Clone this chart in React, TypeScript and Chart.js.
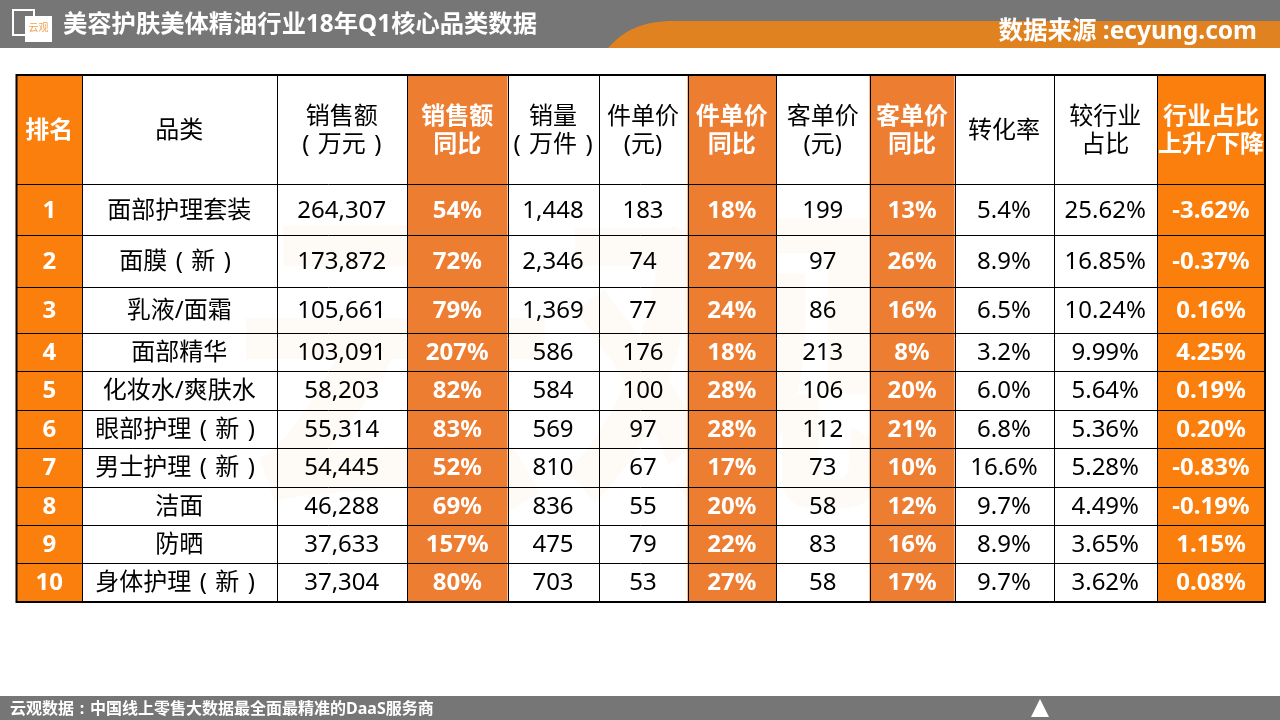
import React, { useEffect, useRef } from "react";
import { Chart, registerables } from "chart.js";

Chart.register(...registerables);

// ---------- data ----------
const ranks = ["1", "2", "3", "4", "5", "6", "7", "8", "9", "10"];
const categories = [
  "面部护理套装",
  "面膜（新）",
  "乳液/面霜",
  "面部精华",
  "化妆水/爽肤水",
  "眼部护理（新）",
  "男士护理（新）",
  "洁面",
  "防晒",
  "身体护理（新）",
];
const salesAmount = [264307, 173872, 105661, 103091, 58203, 55314, 54445, 46288, 37633, 37304];
const salesYoY = [54, 72, 79, 207, 82, 83, 52, 69, 157, 80];
const salesVolume = [1448, 2346, 1369, 586, 584, 569, 810, 836, 475, 703];
const unitPrice = [183, 74, 77, 176, 100, 97, 67, 55, 79, 53];
const unitPriceYoY = [18, 27, 24, 18, 28, 28, 17, 20, 22, 27];
const customerPrice = [199, 97, 86, 213, 106, 112, 73, 58, 83, 58];
const customerPriceYoY = [13, 26, 16, 8, 20, 21, 10, 12, 16, 17];
const conversionRate = [5.4, 8.9, 6.5, 3.2, 6.0, 6.8, 16.6, 9.7, 8.9, 9.7];
const industryShare = [25.62, 16.85, 10.24, 9.99, 5.64, 5.36, 5.28, 4.49, 3.65, 3.62];
const shareChange = [-3.62, -0.37, 0.16, 4.25, 0.19, 0.2, -0.83, -0.19, 1.15, 0.08];

const headerLabels: string[][] = [
  ["排名"],
  ["品类"],
  ["销售额", "（万元）"],
  ["销售额", "同比"],
  ["销量", "（万件）"],
  ["件单价", "(元)"],
  ["件单价", "同比"],
  ["客单价", "(元)"],
  ["客单价", "同比"],
  ["转化率"],
  ["较行业", "占比"],
  ["行业占比", "上升/下降"],
];

const titleText = "美容护肤美体精油行业18年Q1核心品类数据";
const sourceText = "数据来源 :ecyung.com";
const footerText = "云观数据：中国线上零售大数据最全面最精准的DaaS服务商";

// ---------- layout / style ----------
const colWidths = [65.5, 194.5, 130.5, 100.5, 91, 89, 88.5, 93.5, 85, 99, 103.5, 108];
const rowHeights = [109.3, 51, 51.7, 46.3, 38, 38.7, 38.3, 38.4, 38.3, 38.3, 38.7];
// column kind: 0 plain, 1 bright orange (rank/change), 2 office orange
const colKinds = [1, 0, 0, 2, 0, 0, 2, 0, 2, 0, 0, 1];

const BRIGHT = "#FB7F0C";
const ORANGE = "#ED7D31";
const GREY = "#767676";
const BAND = "#E0821F";
const FONT = '"Noto Sans", "Noto Sans CJK SC", sans-serif';

const fmtInt = (v: number) => v.toLocaleString("en-US");
const pct0 = (v: number) => `${v}%`;

function cellText(col: number, row: number): string {
  switch (col) {
    case 0: return ranks[row];
    case 1: return categories[row];
    case 2: return fmtInt(salesAmount[row]);
    case 3: return pct0(salesYoY[row]);
    case 4: return fmtInt(salesVolume[row]);
    case 5: return fmtInt(unitPrice[row]);
    case 6: return pct0(unitPriceYoY[row]);
    case 7: return fmtInt(customerPrice[row]);
    case 8: return pct0(customerPriceYoY[row]);
    case 9: return conversionRate[row].toFixed(1) + "%";
    case 10: return industryShare[row].toFixed(2) + "%";
    default: return shareChange[row].toFixed(2) + "%";
  }
}

const colEdges = colWidths.reduce<number[]>((a, w) => [...a, a[a.length - 1] + w], [0]);
const rowEdges = rowHeights.reduce<number[]>((a, h) => [...a, a[a.length - 1] + h], [0]);

const PUNCT: Record<string, string> = { "（": "(", "）": ")", "：": ":" };

// draws text with full-width punctuation centred in a 1em box
function drawMixed(
  ctx: CanvasRenderingContext2D,
  text: string,
  x: number,
  y: number,
  weight: string,
  size: number,
  align: "center" | "left"
) {
  ctx.font = `${weight}${size}px ${FONT}`;
  const runs: { t: string; p: boolean }[] = [];
  for (const ch of text) {
    const p = ch in PUNCT;
    if (!p && runs.length && !runs[runs.length - 1].p) runs[runs.length - 1].t += ch;
    else runs.push({ t: p ? PUNCT[ch] : ch, p });
  }
  const widths = runs.map((r) => (r.p ? size : ctx.measureText(r.t).width));
  const total = widths.reduce((a, b) => a + b, 0);
  let cx = align === "center" ? x - total / 2 : x;
  runs.forEach((r, i) => {
    if (r.p) {
      ctx.textAlign = "center";
      ctx.fillText(r.t, cx + widths[i] / 2, y);
    } else {
      ctx.textAlign = "left";
      ctx.fillText(r.t, cx, y);
    }
    cx += widths[i];
  });
}

const tablePlugin = {
  id: "tablePlugin",
  beforeDraw(chart: any) {
    const ctx: CanvasRenderingContext2D = chart.ctx;
    const W = chart.width;
    const H = chart.height;
    ctx.save();
    ctx.fillStyle = "#ffffff";
    ctx.fillRect(0, 0, W, H);

    // header bar
    ctx.fillStyle = GREY;
    ctx.fillRect(0, 0, W, 48);
    ctx.fillStyle = BAND;
    ctx.beginPath();
    ctx.moveTo(608, 48);
    ctx.bezierCurveTo(624, 30, 642, 22, 670, 21);
    ctx.lineTo(W, 21);
    ctx.lineTo(W, 48);
    ctx.closePath();
    ctx.fill();

    // logo
    ctx.strokeStyle = "#ffffff";
    ctx.lineWidth = 2;
    ctx.strokeRect(13, 10, 21, 25);
    ctx.fillStyle = "#ffffff";
    ctx.fillRect(25, 16, 27, 26);
    ctx.fillStyle = "#F0A050";
    ctx.font = `10px ${FONT}`;
    ctx.textAlign = "center";
    ctx.textBaseline = "middle";
    ctx.fillText("云观", 38.5, 28);

    ctx.fillStyle = "#ffffff";
    ctx.textAlign = "left";
    ctx.font = `bold 24.3px ${FONT}`;
    ctx.fillText(titleText, 63, 25);
    ctx.textAlign = "right";
    ctx.font = `bold 24.5px ${FONT}`;
    ctx.fillText(sourceText, 1257, 32);

    // footer
    ctx.fillStyle = GREY;
    ctx.fillRect(0, 696, W, H - 696);
    ctx.fillStyle = "#ffffff";
    drawMixed(ctx, footerText, 10, 709, "bold ", 16, "left");
    ctx.beginPath();
    ctx.moveTo(1040, 699);
    ctx.lineTo(1049, 717);
    ctx.lineTo(1031, 717);
    ctx.closePath();
    ctx.fill();
    ctx.restore();
  },
  afterDraw(chart: any) {
    const ctx: CanvasRenderingContext2D = chart.ctx;
    const xs = chart.scales.x;
    const ys = chart.scales.y;
    const px = (v: number) => xs.getPixelForValue(v);
    const py = (v: number) => ys.getPixelForValue(v);
    ctx.save();

    // watermark
    ctx.fillStyle = "rgba(240,150,80,0.05)";
    ctx.font = `bold 330px ${FONT}`;
    ctx.textAlign = "center";
    ctx.textBaseline = "middle";
    ctx.fillText("云观", 560, 390);

    // coloured columns
    for (let c = 0; c < colWidths.length; c++) {
      if (colKinds[c] === 0) continue;
      ctx.fillStyle = colKinds[c] === 1 ? BRIGHT : ORANGE;
      const x0 = px(colEdges[c]);
      const x1 = px(colEdges[c + 1]);
      ctx.fillRect(x0, py(0), x1 - x0, py(rowEdges[rowEdges.length - 1]) - py(0));
    }

    // grid lines
    ctx.strokeStyle = "#000000";
    ctx.lineWidth = 1;
    const top = py(0);
    const bottom = py(rowEdges[rowEdges.length - 1]);
    const left = px(0);
    const right = px(colEdges[colEdges.length - 1]);
    for (let c = 1; c < colEdges.length - 1; c++) {
      const x = Math.round(px(colEdges[c])) + 0.5;
      ctx.beginPath();
      ctx.moveTo(x, top);
      ctx.lineTo(x, bottom);
      ctx.stroke();
    }
    for (let r = 1; r < rowEdges.length - 1; r++) {
      const y = Math.round(py(rowEdges[r])) + 0.5;
      ctx.beginPath();
      ctx.moveTo(left, y);
      ctx.lineTo(right, y);
      ctx.stroke();
    }
    ctx.lineWidth = 2;
    ctx.strokeRect(left, top, right - left, bottom - top);

    // header texts
    ctx.textBaseline = "middle";
    for (let c = 0; c < headerLabels.length; c++) {
      const cx = (px(colEdges[c]) + px(colEdges[c + 1])) / 2;
      const cy = (py(rowEdges[0]) + py(rowEdges[1])) / 2 + 2;
      const lines = headerLabels[c];
      const colored = colKinds[c] !== 0;
      ctx.fillStyle = colored ? "#ffffff" : "#000000";
      const lh = 28;
      lines.forEach((ln, i) => {
        drawMixed(ctx, ln, cx, cy + (i - (lines.length - 1) / 2) * lh, colored ? "bold " : "", 24, "center");
      });
    }

    // body texts
    for (let r = 0; r < categories.length; r++) {
      const cy = (py(rowEdges[r + 1]) + py(rowEdges[r + 2])) / 2 + 1;
      for (let c = 0; c < colWidths.length; c++) {
        const cx = (px(colEdges[c]) + px(colEdges[c + 1])) / 2;
        const colored = colKinds[c] !== 0;
        ctx.fillStyle = colored ? "#ffffff" : "#000000";
        drawMixed(ctx, cellText(c, r), cx, cy, colored ? "bold " : "", 24, "center");
      }
    }
    ctx.restore();
  },
};

export default function App() {
  const ref = useRef<HTMLCanvasElement | null>(null);
  useEffect(() => {
    if (!ref.current) return;
    const chart = new Chart(ref.current, {
      type: "scatter",
      data: { datasets: [{ data: [], pointRadius: 0 }] },
      options: {
        animation: false,
        responsive: false,
        events: [],
        layout: { padding: { left: 16.5, top: 75, right: 15, bottom: 118 } },
        plugins: { legend: { display: false }, tooltip: { enabled: false } },
        scales: {
          x: { type: "linear", min: 0, max: colEdges[colEdges.length - 1], display: false },
          y: { type: "linear", min: 0, max: rowEdges[rowEdges.length - 1], reverse: true, display: false },
        },
      },
      plugins: [tablePlugin],
    });
    return () => chart.destroy();
  }, []);
  return (
    <canvas
      ref={ref}
      width={1280}
      height={720}
      style={{ position: "absolute", left: 0, top: 0, width: 1280, height: 720 }}
    />
  );
}
